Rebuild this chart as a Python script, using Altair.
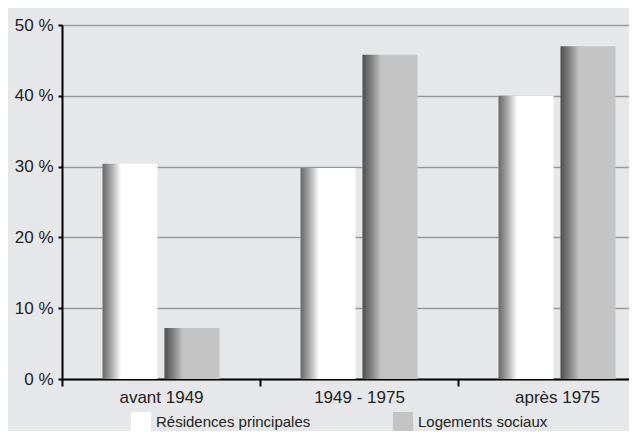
import altair as alt
import pandas as pd

categories = ["avant 1949", "1949 - 1975", "après 1975"]
series = ["Résidences principales", "Logements sociaux"]
residences = [30.4, 29.8, 40.0]
logements = [7.2, 45.8, 47.0]
y_ticks = [0, 10, 20, 30, 40, 50]

rows = []
for c, r, l in zip(categories, residences, logements):
    rows.append({"periode": c, "serie": series[0], "valeur": r})
    rows.append({"periode": c, "serie": series[1], "valeur": l})
df = pd.DataFrame(rows)

BG = "#e6e7e9"
FONT = "Liberation Sans"

x_enc = alt.X(
    "periode:N", sort=categories,
    scale=alt.Scale(range=[0, 594], paddingInner=0, paddingOuter=0),
    axis=alt.Axis(title=None, labelAngle=0, tickBand="extent", domainColor="black",
                  domainWidth=2, tickColor="black", tickWidth=2, tickSize=7,
                  labelFontSize=17, labelColor="#222", labelPadding=3, labelFont=FONT),
)
xo_enc = alt.XOffset("serie:N", sort=series,
                     scale=alt.Scale(paddingInner=0.113, paddingOuter=0.653))
y_enc = alt.Y(
    "valeur:Q", scale=alt.Scale(domain=[0, 50]),
    axis=alt.Axis(values=y_ticks, title=None, labelExpr="datum.value + ' %'",
                  domainColor="black", domainWidth=2, tickColor="black", tickWidth=2,
                  tickSize=4, labelPadding=5, labelFontSize=17, labelColor="#222",
                  labelFont=FONT, gridColor="#9a9a9a", gridWidth=1.5),
)

base = alt.Chart(df).encode(x=x_enc, xOffset=xo_enc, y=y_enc)

solid = base.mark_bar().encode(
    color=alt.Color(
        "serie:N", sort=series,
        scale=alt.Scale(domain=series, range=["#ffffff", "#c4c4c4"]),
        legend=alt.Legend(title=None, orient="none", legendX=69, legendY=387,
                          direction="horizontal", symbolType="square", symbolSize=400,
                          symbolStrokeWidth=0, labelFontSize=15, labelFont=FONT,
                          labelColor="#222", labelOffset=5, columnPadding=82),
    )
)

shade = base.mark_bar(
    color=alt.LinearGradient(
        gradient="linear", x1=0, x2=1, y1=0, y2=0,
        stops=[
            alt.GradientStop(color="rgba(0,0,0,0.6)", offset=0),
            alt.GradientStop(color="rgba(0,0,0,0.32)", offset=0.17),
            alt.GradientStop(color="rgba(0,0,0,0.0)", offset=0.34),
        ],
    )
)

chart = alt.layer(solid, shade).properties(
    width=567, height=354,
    autosize=alt.AutoSizeParams(type="none"),
    padding={"left": 54, "top": 17, "right": 0, "bottom": 52},
    background=BG,
).configure_view(stroke=None, fill=BG)

chart.save("out.html", embed_options={"renderer": "svg", "actions": False})
